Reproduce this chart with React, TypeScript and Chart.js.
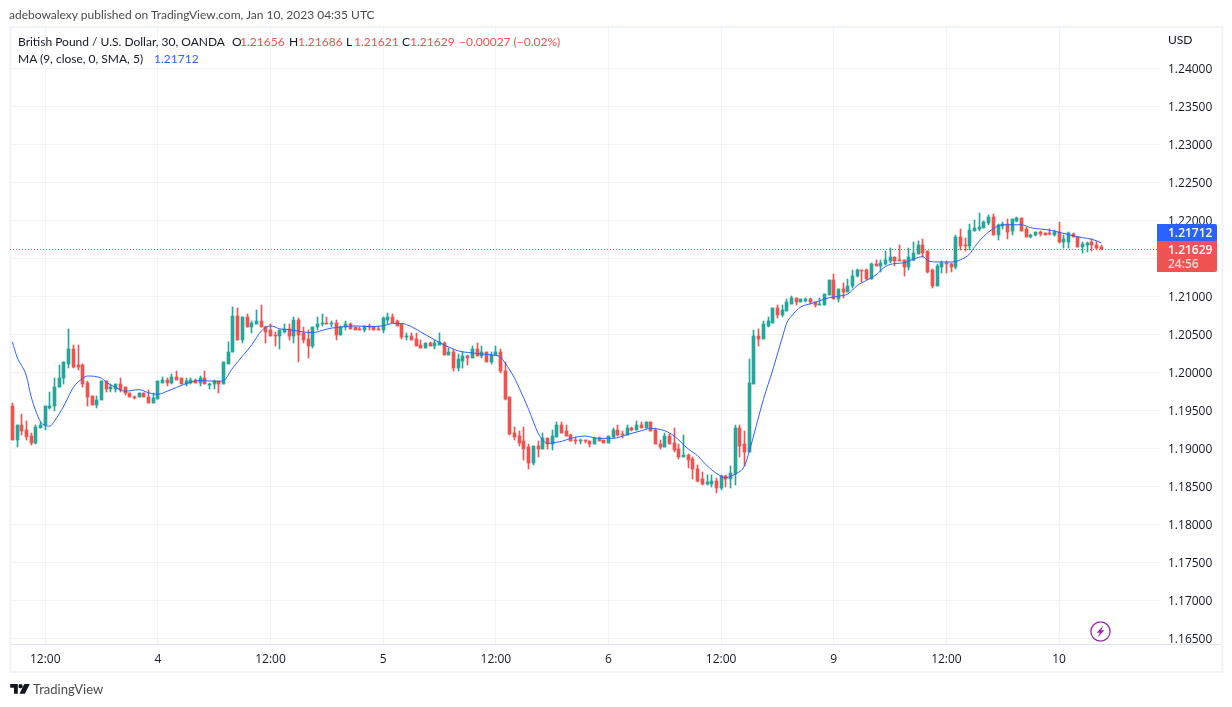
import React, { useEffect, useRef } from "react";
import { Chart, registerables } from "chart.js";

Chart.register(...registerables);

const opens = [
  1.1957,1.1912,1.1932,1.1925,1.1917,1.1908,1.1928,1.1932,1.1954,1.1956,
  1.1981,1.1993,1.2012,1.2031,1.2011,1.2010,1.1987,1.1970,1.1958,1.1964,
  1.1989,1.1979,1.1979,1.1985,1.1981,1.1974,1.1969,1.1968,1.1973,1.1969,
  1.1961,1.1966,1.1987,1.1991,1.1987,1.1995,1.1993,1.1985,1.1987,1.1991,
  1.1987,1.1993,1.1985,1.1985,1.1989,1.1986,1.2012,1.2027,1.2075,1.2044,
  1.2074,1.2060,1.2065,1.2069,1.2061,1.2056,1.2050,1.2048,1.2054,1.2058,
  1.2049,1.2070,1.2052,1.2045,1.2035,1.2060,1.2064,1.2066,1.2065,1.2066,
  1.2050,1.2060,1.2064,1.2060,1.2058,1.2056,1.2062,1.2061,1.2058,1.2056,
  1.2070,1.2074,1.2068,1.2064,1.2047,1.2049,1.2045,1.2037,1.2033,1.2039,
  1.2035,1.2037,1.2040,1.2023,1.2027,1.2007,1.2016,1.2022,1.2020,1.2031,
  1.2022,1.2027,1.2014,1.2023,1.2028,1.2003,1.1969,1.1921,1.1917,1.1910,
  1.1902,1.1881,1.1904,1.1900,1.1915,1.1907,1.1916,1.1931,1.1923,1.1919,
  1.1912,1.1910,1.1912,1.1911,1.1907,1.1914,1.1912,1.1908,1.1916,1.1925,
  1.1920,1.1919,1.1928,1.1925,1.1932,1.1928,1.1935,1.1925,1.1907,1.1903,
  1.1917,1.1908,1.1900,1.1890,1.1892,1.1887,1.1874,1.1860,1.1854,1.1854,
  1.1858,1.1848,1.1865,1.1860,1.1867,1.1927,1.1906,1.1896,1.1986,1.2048,
  1.2045,1.2062,1.2066,1.2086,1.2076,1.2082,1.2091,1.2098,1.2094,1.2095,
  1.2097,1.2094,1.2090,1.2090,1.2103,1.2122,1.2097,1.2110,1.2106,1.2114,
  1.2127,1.2136,1.2136,1.2123,1.2144,1.2141,1.2143,1.2147,1.2152,1.2148,
  1.2148,1.2140,1.2149,1.2157,1.2168,1.2160,1.2135,1.2114,1.2140,1.2145,
  1.2144,1.2139,1.2179,1.2169,1.2167,1.2187,1.2190,1.2191,1.2197,1.2205,
  1.2182,1.2193,1.2196,1.2187,1.2200,1.2204,1.2189,1.2179,1.2182,1.2186,
  1.2184,1.2184,1.2182,1.2186,1.2172,1.2172,1.2183,1.2179,1.2166,1.2168,
  1.2172,1.2168,1.21656,
];

const closes = [
  1.1912,1.1932,1.1924,1.1916,1.1908,1.1929,1.1932,1.1956,1.1957,1.1982,
  1.1994,1.2014,1.2031,1.2008,1.2008,1.1986,1.1969,1.1958,1.1965,1.1989,
  1.1979,1.1981,1.1985,1.1978,1.1973,1.1968,1.1968,1.1973,1.1968,1.1961,
  1.1967,1.1989,1.1991,1.1987,1.1995,1.1991,1.1985,1.1989,1.1991,1.1987,
  1.1993,1.1985,1.1986,1.1989,1.1986,1.2014,1.2028,1.2075,1.2044,1.2074,
  1.2060,1.2066,1.2069,1.2060,1.2054,1.2049,1.2048,1.2056,1.2058,1.2049,
  1.2070,1.2050,1.2044,1.2035,1.2061,1.2065,1.2066,1.2065,1.2066,1.2050,
  1.2060,1.2064,1.2058,1.2057,1.2056,1.2062,1.2060,1.2057,1.2056,1.2072,
  1.2074,1.2066,1.2062,1.2047,1.2049,1.2044,1.2036,1.2033,1.2039,1.2035,
  1.2039,1.2041,1.2023,1.2027,1.2007,1.2018,1.2022,1.2020,1.2031,1.2022,
  1.2027,1.2014,1.2024,1.2028,1.2002,1.1966,1.1920,1.1916,1.1908,1.1900,
  1.1881,1.1904,1.1900,1.1915,1.1907,1.1917,1.1931,1.1921,1.1917,1.1911,
  1.1910,1.1912,1.1910,1.1907,1.1915,1.1911,1.1908,1.1917,1.1925,1.1919,
  1.1919,1.1928,1.1925,1.1932,1.1928,1.1935,1.1923,1.1906,1.1903,1.1917,
  1.1907,1.1899,1.1890,1.1892,1.1886,1.1873,1.1858,1.1854,1.1856,1.1858,
  1.1848,1.1865,1.1860,1.1869,1.1927,1.1904,1.1896,1.1987,1.2048,1.2045,
  1.2064,1.2068,1.2086,1.2076,1.2083,1.2093,1.2098,1.2094,1.2097,1.2097,
  1.2093,1.2090,1.2091,1.2104,1.2122,1.2097,1.2110,1.2107,1.2115,1.2128,
  1.2136,1.2135,1.2123,1.2144,1.2141,1.2145,1.2148,1.2152,1.2147,1.2147,
  1.2140,1.2152,1.2158,1.2168,1.2158,1.2133,1.2114,1.2141,1.2145,1.2143,
  1.2139,1.2179,1.2167,1.2168,1.2188,1.2191,1.2192,1.2199,1.2205,1.2182,
  1.2195,1.2196,1.2186,1.2202,1.2204,1.2187,1.2179,1.2182,1.2186,1.2183,
  1.2182,1.2183,1.2186,1.2172,1.2176,1.2184,1.2179,1.2166,1.2170,1.2171,
  1.2168,1.2165,1.21629,
];

const highs = [
  1.1960,1.1932,1.1946,1.1937,1.1921,1.1932,1.1936,1.1957,1.1975,1.1993,
  1.2011,1.2015,1.2058,1.2037,1.2037,1.2012,1.1989,1.1970,1.1970,1.1989,
  1.1989,1.1985,1.1986,1.1993,1.1982,1.1974,1.1970,1.1973,1.1973,1.1977,
  1.1973,1.1990,1.1995,1.1994,1.1998,1.2002,1.1993,1.1993,1.1993,1.1992,
  1.1996,1.2002,1.1987,1.1991,1.1990,1.2015,1.2041,1.2087,1.2086,1.2074,
  1.2078,1.2068,1.2083,1.2089,1.2062,1.2064,1.2054,1.2057,1.2065,1.2064,
  1.2074,1.2072,1.2061,1.2057,1.2061,1.2073,1.2078,1.2074,1.2069,1.2070,
  1.2062,1.2069,1.2066,1.2060,1.2060,1.2062,1.2064,1.2062,1.2062,1.2073,
  1.2079,1.2078,1.2070,1.2065,1.2053,1.2052,1.2052,1.2043,1.2040,1.2041,
  1.2044,1.2052,1.2041,1.2033,1.2031,1.2025,1.2028,1.2024,1.2035,1.2039,
  1.2036,1.2028,1.2027,1.2036,1.2031,1.2015,1.1969,1.1929,1.1924,1.1929,
  1.1906,1.1904,1.1911,1.1921,1.1915,1.1925,1.1936,1.1935,1.1932,1.1920,
  1.1916,1.1913,1.1912,1.1911,1.1916,1.1916,1.1912,1.1917,1.1927,1.1931,
  1.1923,1.1932,1.1929,1.1937,1.1936,1.1936,1.1936,1.1927,1.1912,1.1921,
  1.1920,1.1927,1.1907,1.1919,1.1894,1.1890,1.1879,1.1870,1.1866,1.1866,
  1.1862,1.1866,1.1866,1.1877,1.1931,1.1931,1.1923,1.2019,1.2056,1.2058,
  1.2069,1.2074,1.2086,1.2089,1.2089,1.2097,1.2101,1.2099,1.2097,1.2099,
  1.2098,1.2094,1.2098,1.2104,1.2122,1.2130,1.2111,1.2118,1.2123,1.2135,
  1.2137,1.2136,1.2137,1.2145,1.2149,1.2149,1.2160,1.2165,1.2153,1.2168,
  1.2148,1.2165,1.2172,1.2173,1.2176,1.2161,1.2137,1.2144,1.2147,1.2147,
  1.2145,1.2181,1.2190,1.2178,1.2196,1.2201,1.2211,1.2200,1.2208,1.2209,
  1.2196,1.2199,1.2203,1.2203,1.2205,1.2204,1.2192,1.2183,1.2186,1.2187,
  1.2184,1.2189,1.2188,1.2199,1.2182,1.2186,1.2184,1.2179,1.2172,1.2172,
  1.2176,1.2174,1.21686,
];

const lows = [
  1.1912,1.1902,1.1919,1.1912,1.1905,1.1907,1.1928,1.1925,1.1953,1.1950,
  1.1981,1.1985,1.2007,1.2007,1.2004,1.1981,1.1957,1.1958,1.1954,1.1964,
  1.1975,1.1975,1.1975,1.1975,1.1971,1.1968,1.1966,1.1968,1.1968,1.1961,
  1.1960,1.1966,1.1987,1.1983,1.1986,1.1991,1.1985,1.1983,1.1986,1.1987,
  1.1983,1.1985,1.1979,1.1979,1.1973,1.1986,1.2012,1.2027,1.2044,1.2040,
  1.2060,1.2053,1.2064,1.2060,1.2039,1.2049,1.2036,1.2031,1.2052,1.2044,
  1.2040,1.2015,1.2039,1.2020,1.2033,1.2057,1.2062,1.2064,1.2061,1.2043,
  1.2050,1.2056,1.2058,1.2056,1.2056,1.2054,1.2057,1.2057,1.2056,1.2052,
  1.2064,1.2066,1.2062,1.2045,1.2044,1.2043,1.2036,1.2033,1.2033,1.2035,
  1.2032,1.2037,1.2023,1.2023,1.2002,1.2002,1.2006,1.2011,1.2020,1.2022,
  1.2020,1.2014,1.2012,1.2023,1.2000,1.1965,1.1919,1.1912,1.1904,1.1886,
  1.1874,1.1879,1.1889,1.1900,1.1900,1.1898,1.1916,1.1921,1.1917,1.1910,
  1.1907,1.1907,1.1908,1.1902,1.1907,1.1910,1.1908,1.1908,1.1915,1.1917,
  1.1914,1.1919,1.1924,1.1925,1.1928,1.1928,1.1923,1.1906,1.1900,1.1903,
  1.1907,1.1896,1.1887,1.1890,1.1875,1.1861,1.1856,1.1852,1.1853,1.1850,
  1.1842,1.1846,1.1850,1.1849,1.1853,1.1889,1.1878,1.1896,1.1986,1.2036,
  1.2045,1.2061,1.2066,1.2072,1.2074,1.2082,1.2091,1.2089,1.2093,1.2094,
  1.2091,1.2087,1.2090,1.2090,1.2102,1.2097,1.2094,1.2099,1.2106,1.2112,
  1.2126,1.2120,1.2122,1.2123,1.2141,1.2133,1.2142,1.2145,1.2141,1.2147,
  1.2127,1.2136,1.2147,1.2157,1.2152,1.2132,1.2112,1.2114,1.2131,1.2132,
  1.2133,1.2137,1.2162,1.2161,1.2162,1.2187,1.2187,1.2191,1.2195,1.2182,
  1.2175,1.2190,1.2176,1.2182,1.2199,1.2187,1.2179,1.2178,1.2180,1.2180,
  1.2182,1.2181,1.2180,1.2171,1.2164,1.2164,1.2179,1.2166,1.2158,1.2159,
  1.2160,1.2162,1.21621,
];

const maCandle = [
  0,1,3,4,6,7,8,9,11,13,15,16,19,20,22,24,27,29,31,33,35,38,40,44,45,47,49,51,53,55,
  57,59,62,64,66,68,71,73,76,79,81,83,85,87,89,91,93,95,97,100,103,104,105,107,108,110,
  112,113,114,115,117,119,122,125,128,131,134,136,139,141,144,146,148,150,152,153,154,156,157,
  160,162,164,165,166,168,170,172,174,176,178,180,182,184,186,188,190,192,194,195,197,200,202,204,
  205,207,209,211,215,217,221,225,228,230,232,
];
const maValues = [
  1.2041,1.2021,1.1996,1.1969,1.1936,1.1931,1.1930,1.1937,1.1957,1.1981,1.1993,1.1996,1.1993,1.1988,1.1981,1.1976,1.1978,1.1974,1.1972,1.1976,1.1981,1.1988,1.1990,1.1989,1.1990,1.2007,1.2022,1.2037,1.2055,1.2062,
  1.2058,1.2057,1.2054,1.2053,1.2056,1.2059,1.2061,1.2062,1.2061,1.2062,1.2065,1.2065,1.2061,1.2054,1.2047,1.2040,1.2034,1.2029,1.2027,1.2025,1.2023,1.2021,1.2013,1.1993,1.1980,1.1952,
  1.1921,1.1912,1.1907,1.1908,1.1910,1.1914,1.1917,1.1914,1.1914,1.1919,1.1924,1.1927,1.1924,1.1917,1.1900,1.1891,1.1878,1.1868,1.1862,1.1864,1.1867,1.1878,1.1897,
  1.1965,1.2004,1.2046,1.2066,1.2075,1.2087,1.2091,1.2095,1.2099,1.2101,1.2104,1.2115,1.2122,1.2129,1.2140,1.2144,1.2145,1.2150,1.2153,1.2148,1.2146,1.2146,1.2149,1.2157,
  1.2166,1.2180,1.2190,1.2195,1.2195,1.2191,1.2188,1.2182,1.2178,1.2176,1.21712,
];

const priceTicks = [
  1.24,1.235,1.23,1.225,1.22,1.215,1.21,1.205,1.2,1.195,1.19,1.185,1.18,1.175,1.17,1.165,
];
const timeTickIndex = [7, 31, 55, 79, 103, 127, 151, 175, 199, 223];
const timeTickLabels = ["12:00", "4", "12:00", "5", "12:00", "6", "12:00", "9", "12:00", "10"];

const SLOT_COUNT = 245;
const Y_MIN = 1.16434;
const Y_MAX = 1.24539;
const LAST_PRICE = 1.21629;
const MA_PRICE = 1.21712;

const UP = "#26a69a";
const DOWN = "#ef5350";
const GRID = "#f0f3fa";
const FONT = '"Open Sans", sans-serif';
const TEXT_FONT = 'Lato, "Open Sans", sans-serif';

const snapPlugin = {
  id: "snap",
  afterDatasetsUpdate(chart: any) {
    [0, 1].forEach((d) => {
      chart.getDatasetMeta(d).data.forEach((el: any) => {
        el.x = Math.floor(el.x) + 0.5;
        let top = Math.round(Math.min(el.y, el.base));
        let bottom = Math.round(Math.max(el.y, el.base));
        if (bottom - top < 1) bottom = top + 1;
        el.y = top;
        el.base = bottom;
      });
    });
  },
};

const framePlugin = {
  id: "frame",
  beforeDraw(chart: any) {
    const { ctx, chartArea: a } = chart;
    ctx.save();
    ctx.strokeStyle = GRID;
    ctx.lineWidth = 2;
    ctx.strokeRect(a.left + 0.5, 27, 1212, 645);
    ctx.restore();
  },
  afterDatasetsDraw(chart: any) {
    const { ctx, chartArea: a, scales } = chart;
    ctx.save();
    ctx.strokeStyle = "#e0e3eb";
    ctx.lineWidth = 1;
    ctx.beginPath();
    ctx.moveTo(a.left, a.bottom + 0.5);
    ctx.lineTo(a.left + 1212, a.bottom + 0.5);
    ctx.stroke();
    const y = Math.floor(scales.y.getPixelForValue(LAST_PRICE)) + 0.5;
    ctx.strokeStyle = DOWN;
    ctx.setLineDash([1, 2]);
    ctx.beginPath();
    ctx.moveTo(a.left, y);
    ctx.lineTo(a.right - 3, y);
    ctx.stroke();
    ctx.restore();
  },
  afterDraw(chart: any) {
    const { ctx, chartArea: a, scales } = chart;
    const redTop = Math.round(scales.y.getPixelForValue(LAST_PRICE)) - 8;
    const left = a.right - 3;
    ctx.save();
    ctx.fillStyle = "#2962ff";
    ctx.beginPath();
    ctx.roundRect(left, redTop - 17, 60, 17, [0, 2, 0, 0]);
    ctx.fill();
    ctx.fillStyle = "#f15353";
    ctx.beginPath();
    ctx.roundRect(left, redTop, 60, 31, [0, 0, 2, 0]);
    ctx.fill();
    ctx.font = `600 12px ${FONT}`;
    ctx.textBaseline = "middle";
    ctx.textAlign = "left";
    ctx.fillStyle = "#ffffff";
    ctx.fillText(MA_PRICE.toFixed(5), a.right + 8, redTop - 7);
    ctx.fillText(LAST_PRICE.toFixed(5), a.right + 8, redTop + 10);
    ctx.fillStyle = "rgba(255,255,255,0.75)";
    ctx.fillText("24:56", a.right + 8, redTop + 24);
    ctx.restore();
  },
};

const textBase: React.CSSProperties = {
  position: "absolute",
  font: `12px ${TEXT_FONT}`,
  whiteSpace: "nowrap",
  lineHeight: "16px",
};

function Label({ x, y, color, children }: { x: number; y: number; color: string; children: React.ReactNode }) {
  return <div style={{ ...textBase, left: x, top: y, color }}>{children}</div>;
}

export default function App() {
  const ref = useRef<HTMLCanvasElement>(null);

  useEffect(() => {
    const slots = Array.from({ length: SLOT_COUNT }, (_, i) => {
      const k = timeTickIndex.indexOf(i);
      return k >= 0 ? timeTickLabels[k] : `c${i}`;
    });
    const candleColors = opens.map((o, i) => (closes[i] >= o ? UP : DOWN));
    const maLine = slots.map((_, i) => {
      const k = maCandle.indexOf(i);
      return k >= 0 ? maValues[k] : null;
    });

    const chart = new Chart(ref.current as HTMLCanvasElement, {
      type: "bar",
      data: {
        labels: slots,
        datasets: [
          {
            label: "Wick",
            data: opens.map((_, i) => [lows[i], highs[i]]),
            backgroundColor: candleColors,
            barThickness: 1,
            grouped: false,
            order: 3,
          },
          {
            label: "GBP/USD",
            data: opens.map((o, i) => [o, closes[i]]),
            backgroundColor: candleColors,
            barThickness: 3,
            grouped: false,
            order: 2,
          },
          {
            type: "line",
            label: "MA (9, close, 0, SMA, 5)",
            data: maLine,
            borderColor: "#2962ff",
            borderWidth: 1,
            pointRadius: 0,
            spanGaps: true,
            cubicInterpolationMode: "monotone",
            order: 1,
          },
        ],
      } as any,
      options: {
        responsive: false,
        animation: false,
        layout: { padding: { left: 10, right: 10, top: 28, bottom: 35 } },
        plugins: { legend: { display: false }, tooltip: { enabled: false }, title: { display: false } },
        scales: {
          x: {
            type: "category",
            offset: true,
            border: { display: false },
            grid: { color: GRID, offset: false, drawTicks: false, lineWidth: 1 },
            ticks: {
              autoSkip: false,
              maxRotation: 0,
              minRotation: 0,
              padding: 8,
              color: "#131722",
              font: { family: FONT, size: 12 },
            },
            afterBuildTicks(scale: any) {
              scale.ticks = timeTickIndex.map((v) => ({ value: v }));
            },
            afterFit(scale: any) {
              scale.height = 28;
            },
          },
          y: {
            position: "right",
            min: Y_MIN,
            max: Y_MAX,
            border: { display: false },
            grid: { color: GRID, drawTicks: false, lineWidth: 1 },
            ticks: {
              padding: 8,
              labelOffset: 1,
              color: "#131722",
              font: { family: FONT, size: 12 },
              callback: (v: any) => Number(v).toFixed(5),
            },
            afterBuildTicks(scale: any) {
              scale.ticks = priceTicks.map((v) => ({ value: v }));
            },
            afterFit(scale: any) {
              scale.width = 62;
            },
          },
        },
      } as any,
      plugins: [snapPlugin, framePlugin] as any,
    });
    return () => chart.destroy();
  }, []);

  return (
    <div style={{ position: "absolute", left: 0, top: 0, width: 1232, height: 707, overflow: "hidden", background: "#fff" }}>
      <canvas ref={ref} width={1232} height={707} style={{ display: "block" }} />
      <Label x={9} y={7} color="#4a4a4a">adebowalexy published on TradingView.com, Jan 10, 2023 04:35 UTC</Label>
      <Label x={18} y={34} color="#131722">British Pound / U.S. Dollar, 30, OANDA</Label>
      <Label x={232} y={34} color="#131722">O</Label>
      <Label x={240} y={34} color={DOWN}>1.21656</Label>
      <Label x={289} y={34} color="#131722">H</Label>
      <Label x={298} y={34} color={DOWN}>1.21686</Label>
      <Label x={346} y={34} color="#131722">L</Label>
      <Label x={354} y={34} color={DOWN}>1.21621</Label>
      <Label x={402} y={34} color="#131722">C</Label>
      <Label x={410} y={34} color={DOWN}>1.21629</Label>
      <Label x={459} y={34} color={DOWN}>−0.00027 (−0.02%)</Label>
      <Label x={18} y={51} color="#131722">MA (9, close, 0, SMA, 5)</Label>
      <Label x={154} y={51} color="#2962ff">1.21712</Label>
      <Label x={1168} y={32} color="#131722">USD</Label>
      <svg style={{ position: "absolute", left: 10, top: 684 }} width="20" height="12" viewBox="0 0 36 22">
        <path fill="#131722" d="M0 0h14v18H7V7H0zM15 4a4 4 0 1 0 8 0a4 4 0 1 0-8 0zM26 0h10l-9 18H17z" />
      </svg>
      <div style={{ ...textBase, left: 33, top: 681, fontSize: 13, color: "#4a4a4a" }}>TradingView</div>
      <svg style={{ position: "absolute", left: 1089, top: 620 }} width="23" height="23" viewBox="0 0 23 23">
        <circle cx="11.5" cy="11.5" r="9.6" fill="#fff" stroke="#9c27b0" strokeWidth="1.3" />
        <path fill="#9c27b0" d="M14.5 5.5L7.5 12.8h3.4L8.5 17.5l7-7.2h-3.4z" />
      </svg>
    </div>
  );
}
